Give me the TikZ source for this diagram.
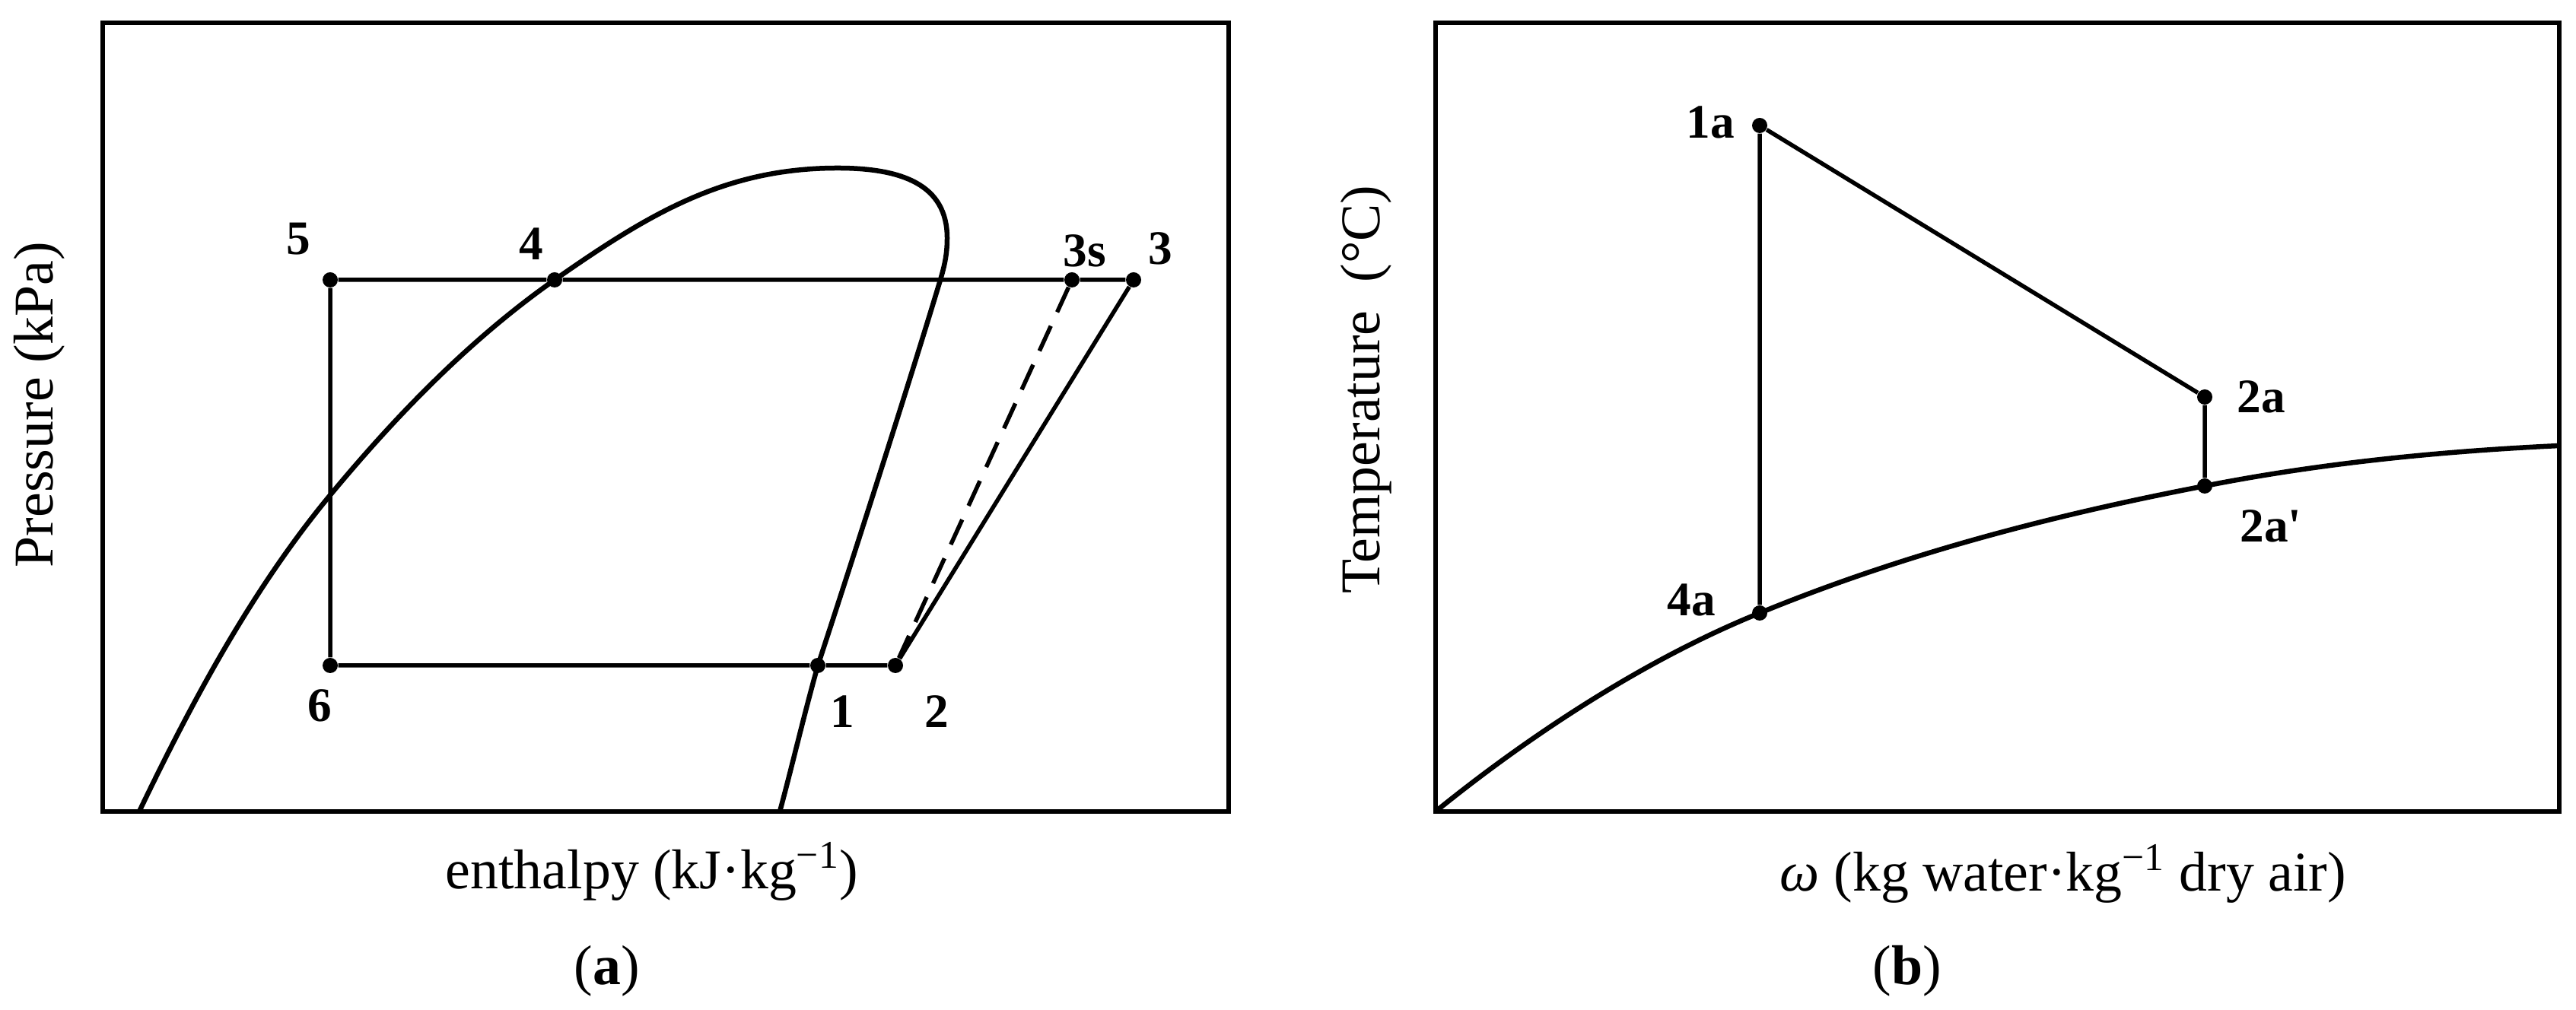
\documentclass[tikz,border=0pt]{standalone}
\usepackage{fontspec}
\setmainfont{Liberation Serif}
\newfontfamily\rawserif{Liberation Serif}
\usepackage{tikz}
\usetikzlibrary{positioning}
\tikzset{
    panelframe/.style={line width=0.06cm},
    satcurve/.style={line width=0.065cm},
    cycline/.style={line width=0.055cm},
    ptdot/.style={circle, fill=black, inner sep=0pt, minimum size=0.2cm},
    ptlabel/.style={font=\bfseries\fontsize{18}{21}\selectfont, inner sep=0pt},
    axislabel/.style={font=\fontsize{21}{25}\selectfont, inner sep=0pt},
}

\begin{document}
\begin{tikzpicture}
    \useasboundingbox (0,0) rectangle (33.86,13.28);
    % Panel (a)
    \draw [panelframe] (1.35,2.61) rectangle (16.15,12.98); % Box
    \draw [satcurve] (1.83,2.61) .. controls (2.52,4.05) and (3.32,5.54) .. (4.34,6.77)
        .. controls (5.21,7.82) and (6.18,8.82) .. (7.29,9.60)
        .. controls (8.52,10.46) and (9.52,11.07) .. (11.01,11.07)
        .. controls (11.86,11.07) and (12.45,10.85) .. (12.45,10.15)
        .. controls (12.45,9.95) and (12.42,9.80) .. (12.36,9.60)
        .. controls (12.00,8.40) and (11.20,5.90) .. (10.75,4.53)
        .. controls (10.56,3.85) and (10.41,3.20) .. (10.25,2.61);
    % Cycle points
    \foreach \name/\x/\y in {p5/4.34/9.60, p4/7.29/9.60, p3s/14.09/9.60, p3/14.90/9.60, p6/4.34/4.53, p1/10.75/4.53, p2/11.77/4.53} {
        \node [ptdot] (\name) at (\x,\y) {};
    }
    \draw [cycline] (p5) -- (p4) -- (p3s) -- (p3) -- (p2) -- (p1) -- (p6) -- (p5);
    \draw [cycline, dash pattern=on 0.36cm off 0.2cm] (p3s) -- (p2); % Isentropic
    \node [ptlabel] (l5) at (3.92,10.14) {5};
    \node [ptlabel] (l4) at (6.98,10.07) {4};
    \node [ptlabel] (l3s) at (14.26,9.98) {3s};
    \node [ptlabel] (l3) at (15.25,10.01) {3};
    \node [ptlabel] (l6) at (4.20,4.00) {6};
    \node [ptlabel] (l1) at (11.07,3.92) {1};
    \node [ptlabel] (l2) at (12.31,3.92) {2};
    \node [axislabel, rotate=90] (pressure) at (0.52,7.96) {Pressure (kPa)};
    \node [axislabel] (enthalpy) at (8.57,1.82) {enthalpy (kJ·kg\textsuperscript{−1})};
    \node [axislabel] (capa) at (7.98,0.51) {(\textbf{a})};
    % Panel (b)
    \draw [panelframe] (18.87,2.61) rectangle (33.64,12.98); % Box
    \draw [satcurve] (18.87,2.61) .. controls (20.09,3.60) and (21.62,4.61) .. (23.13,5.22)
        .. controls (25.05,6.01) and (27.05,6.52) .. (28.98,6.89)
        .. controls (30.55,7.20) and (32.15,7.35) .. (33.64,7.42);
    % Air points
    \foreach \name/\x/\y in {q1a/23.13/11.63, q2a/28.98/8.06, q2b/28.98/6.89, q4a/23.13/5.22} {
        \node [ptdot] (\name) at (\x,\y) {};
    }
    \draw [cycline] (q4a) -- (q1a) -- (q2a) -- (q2b);
    \node [ptlabel] (l1a) at (22.48,11.67) {1a};
    \node [ptlabel] (l2a) at (29.72,8.06) {2a};
    \node [ptlabel] (l2b) at (29.85,6.36) {2a{\rawserif '}};
    \node [ptlabel] (l4a) at (22.23,5.39) {4a};
    \node [axislabel, rotate=90] (temperature) at (17.96,8.16) {Temperature\ \ (°C)};
    \node [axislabel] (humidity) at (27.12,1.79) {\textit{ω} (kg water·kg\textsuperscript{−1} dry air)};
    \node [axislabel] (capb) at (25.07,0.51) {(\textbf{b})};
\end{tikzpicture}
\end{document}
